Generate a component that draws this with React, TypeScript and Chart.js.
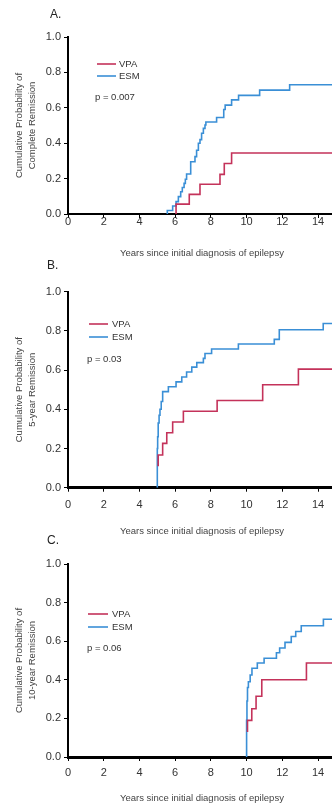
import React, { useEffect, useRef } from 'react';
import { Chart, registerables } from 'chart.js';

Chart.register(...registerables);

// ---------- data ----------
const seriesNames = ['VPA', 'ESM'];
const xTickValues = [0, 2, 4, 6, 8, 10, 12, 14];
const yTickValues = [0, 0.2, 0.4, 0.6, 0.8, 1.0];
const xAxisTitle = 'Years since initial diagnosis of epilepsy';

// Panel A: complete remission
const aTitle = ['Cumulative Probability of', 'Complete Remission'];
const aPValue = 'p = 0.007';
const aVpaYears = [6.05, 6.05, 6.79, 7.39, 8.51, 8.75, 9.16, 15];
const aVpaProb = [0, 0.056, 0.111, 0.168, 0.224, 0.285, 0.345, 0.345];
const aEsmYears = [5.56, 5.56, 5.86, 6.05, 6.18, 6.31, 6.4, 6.5, 6.57, 6.64, 6.87, 7.11, 7.2, 7.3, 7.39, 7.48, 7.58, 7.67, 7.72, 8.32, 8.72, 8.8, 9.16, 9.55, 10.73, 12.41, 15];
const aEsmProb = [0, 0.02, 0.045, 0.07, 0.098, 0.126, 0.15, 0.173, 0.196, 0.226, 0.295, 0.324, 0.36, 0.4, 0.42, 0.456, 0.484, 0.503, 0.52, 0.545, 0.59, 0.615, 0.645, 0.67, 0.7, 0.73, 0.73];

// Panel B: 5-year remission
const bTitle = ['Cumulative Probability of', '5-year Remission'];
const bPValue = 'p = 0.03';
const bVpaYears = [5.05, 5.05, 5.3, 5.53, 5.86, 6.46, 8.35, 10.9, 12.9, 15];
const bVpaProb = [0.11, 0.167, 0.226, 0.28, 0.335, 0.39, 0.445, 0.525, 0.605, 0.605];
const bEsmYears = [5.0, 5.0, 5.02, 5.05, 5.1, 5.15, 5.22, 5.3, 5.62, 6.05, 6.37, 6.64, 6.93, 7.21, 7.58, 7.67, 8.04, 9.54, 11.55, 11.83, 14.29, 15];
const bEsmProb = [0, 0.2, 0.26, 0.33, 0.37, 0.4, 0.44, 0.49, 0.515, 0.54, 0.565, 0.59, 0.615, 0.638, 0.66, 0.685, 0.708, 0.733, 0.757, 0.806, 0.838, 0.838];

// Panel C: 10-year remission
const cTitle = ['Cumulative Probability of', '10-year Remission'];
const cPValue = 'p = 0.06';
const cVpaYears = [10.05, 10.05, 10.29, 10.53, 10.85, 13.35, 15];
const cVpaProb = [0.13, 0.19, 0.25, 0.315, 0.4, 0.487, 0.487];
const cEsmYears = [10.0, 10.0, 10.02, 10.05, 10.1, 10.2, 10.3, 10.6, 10.98, 11.67, 11.85, 12.15, 12.5, 12.75, 13.06, 14.3, 15];
const cEsmProb = [0, 0.19, 0.29, 0.36, 0.39, 0.425, 0.46, 0.487, 0.512, 0.54, 0.565, 0.594, 0.624, 0.65, 0.68, 0.714, 0.714];

// ---------- styles / layout ----------
const VPA_COLOR = '#c4325a';
const ESM_COLOR = '#3a8fd6';
const FONT = '"Liberation Sans", Arial, sans-serif';
const CANVAS_W = 360;

const panels = [
  {
    letter: 'A.', yTitle: aTitle, p: aPValue,
    vpaX: aVpaYears, vpaY: aVpaProb, esmX: aEsmYears, esmY: aEsmProb,
    top: 0, h: 262, padTop: 37, xAxisH: 48, tickPad: -3, xTitlePad: 3, xBorder: 2,
    letterX: 50, letterY: 15,
    lx1: 97, lx2: 116, tx: 119, vpaLY: 64, esmLY: 76, px: 95, py: 97,
  },
  {
    letter: 'B.', yTitle: bTitle, p: bPValue,
    vpaX: bVpaYears, vpaY: bVpaProb, esmX: bEsmYears, esmY: bEsmProb,
    top: 252, h: 290, padTop: 39.7, xAxisH: 54.3, tickPad: 6.4, xTitlePad: 5, xBorder: 3,
    letterX: 47, letterY: 266,
    lx1: 89, lx2: 108, tx: 112, vpaLY: 324, esmLY: 337, px: 87, py: 359,
  },
  {
    letter: 'C.', yTitle: cTitle, p: cPValue,
    vpaX: cVpaYears, vpaY: cVpaProb, esmX: cEsmYears, esmY: cEsmProb,
    top: 530, h: 278, padTop: 34, xAxisH: 51, tickPad: 5.4, xTitlePad: 4, xBorder: 3,
    letterX: 47, letterY: 541,
    lx1: 88, lx2: 108, tx: 112, vpaLY: 614, esmLY: 627, px: 87, py: 648,
  },
];

const annotPlugin = {
  id: 'annot',
  afterDraw(chart: any, _args: any, o: any) {
    const ctx = chart.ctx;
    ctx.save();
    ctx.textBaseline = 'middle';
    ctx.textAlign = 'left';
    ctx.fillStyle = '#222';
    ctx.font = `12px ${FONT}`;
    ctx.fillText(o.letter, o.letterX, o.letterY);
    ctx.font = `9.5px ${FONT}`;
    ctx.lineWidth = 1.6;
    o.items.forEach((it: any) => {
      ctx.strokeStyle = it.color;
      ctx.beginPath();
      ctx.moveTo(o.lx1, it.y);
      ctx.lineTo(o.lx2, it.y);
      ctx.stroke();
      ctx.fillStyle = '#333';
      ctx.fillText(it.label, o.tx, it.y);
    });
    ctx.fillStyle = '#333';
    ctx.fillText(o.p, o.px, o.py);
    ctx.restore();
  },
};

function makeChart(canvas: HTMLCanvasElement, p: any) {
  const off = p.top;
  return new Chart(canvas, {
    type: 'line',
    data: {
      datasets: [
        {
          label: seriesNames[0],
          data: p.vpaX.map((x: number, i: number) => ({ x, y: p.vpaY[i] })),
          borderColor: VPA_COLOR, borderWidth: 1.6, stepped: true, pointRadius: 0, fill: false,
        },
        {
          label: seriesNames[1],
          data: p.esmX.map((x: number, i: number) => ({ x, y: p.esmY[i] })),
          borderColor: ESM_COLOR, borderWidth: 1.6, stepped: true, pointRadius: 0, fill: false,
        },
      ],
    },
    options: {
      responsive: false,
      animation: false,
      devicePixelRatio: 1,
      layout: { padding: { top: p.padTop, right: CANVAS_W - (68 + 15 * 17.86), bottom: 0, left: 0 } },
      plugins: {
        legend: { display: false },
        tooltip: { enabled: false },
        annot: {
          letter: p.letter, letterX: p.letterX, letterY: p.letterY - off,
          lx1: p.lx1, lx2: p.lx2, tx: p.tx,
          items: [
            { label: seriesNames[0], color: VPA_COLOR, y: p.vpaLY - off },
            { label: seriesNames[1], color: ESM_COLOR, y: p.esmLY - off },
          ],
          p: p.p, px: p.px, py: p.py - off,
        },
      } as any,
      scales: {
        x: {
          type: 'linear', min: 0, max: 15,
          afterBuildTicks: (s: any) => { s.ticks = xTickValues.map((v) => ({ value: v })); },
          afterFit: (s: any) => { s.height = p.xAxisH; },
          ticks: { color: '#333', font: { size: 11, family: FONT }, padding: p.tickPad, maxRotation: 0 },
          grid: { display: true, drawOnChartArea: false, drawTicks: true, tickLength: 4, color: '#000' },
          border: { display: true, color: '#000', width: p.xBorder },
          title: {
            display: true, text: xAxisTitle, color: '#444',
            font: { size: 9.5, family: FONT, lineHeight: 1.2 },
            padding: { top: 0, bottom: p.xTitlePad },
          },
        },
        y: {
          type: 'linear', min: 0, max: 1,
          afterBuildTicks: (s: any) => { s.ticks = yTickValues.map((v) => ({ value: v })); },
          afterFit: (s: any) => { s.width = 68; },
          ticks: {
            color: '#333', font: { size: 11, family: FONT }, padding: 3,
            callback: (v: any) => Number(v).toFixed(1),
          },
          grid: { display: true, drawOnChartArea: false, drawTicks: true, tickLength: 4, color: '#000' },
          border: { display: true, color: '#000', width: 2 },
          title: {
            display: true, text: p.yTitle, color: '#444',
            font: { size: 9.5, family: FONT, lineHeight: 1.3 },
            padding: { top: 13.5, bottom: 0 },
          },
        },
      },
    } as any,
    plugins: [annotPlugin],
  });
}

export default function App() {
  const r0 = useRef<HTMLCanvasElement>(null);
  const r1 = useRef<HTMLCanvasElement>(null);
  const r2 = useRef<HTMLCanvasElement>(null);

  useEffect(() => {
    const refs = [r0, r1, r2];
    const charts = refs.map((r, i) => makeChart(r.current as HTMLCanvasElement, panels[i]));
    return () => charts.forEach((c) => c.destroy());
  }, []);

  const refs = [r0, r1, r2];
  return (
    <div style={{ position: 'absolute', left: 0, top: 0, width: 332, height: 808, overflow: 'hidden', background: '#fff' }}>
      {panels.map((p, i) => (
        <canvas
          key={i}
          ref={refs[i]}
          width={CANVAS_W}
          height={p.h}
          style={{ position: 'absolute', left: 0, top: p.top, width: CANVAS_W, height: p.h, display: 'block' }}
        />
      ))}
    </div>
  );
}
